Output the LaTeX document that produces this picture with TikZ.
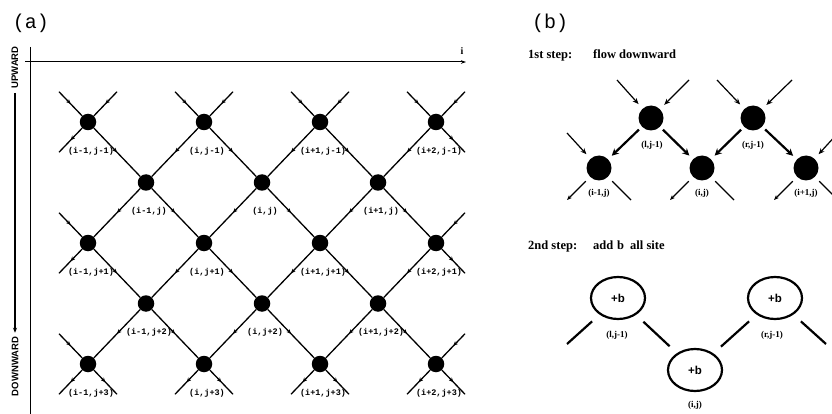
\documentclass[tikz,border=0pt]{standalone}
\usepackage{fontspec}
\setmainfont{Liberation Serif}
\setsansfont{Liberation Sans}
\setmonofont{Liberation Mono}
\usetikzlibrary{arrows.meta,decorations.markings,shapes.geometric,calc}

% offset suffix for lattice indices: -1, (none), +1, +2, +3
\newcommand\latoff[1]{\ifcase\numexpr#1+1\relax -1\or\or +1\or +2\or +3\fi}

\begin{document}
\begin{tikzpicture}[x=1pt,y=-1pt,
  site/.style={circle,fill=black,inner sep=0pt,minimum size=16.5pt},
  bond/.style={line width=1.3pt},
  midtip/.style={postaction={decorate},decoration={markings,
      mark=at position 0.5 with {\arrow{Stealth[length=4.5pt,width=4pt]}}}},
  sitelab/.style={font=\ttfamily\bfseries\fontsize{8.5}{9}\selectfont,inner sep=0pt},
  sidelab/.style={font=\sffamily\bfseries\fontsize{9.5}{10}\selectfont,inner sep=0pt,rotate=90},
  title/.style={font=\ttfamily\fontsize{20}{21}\selectfont,inner sep=0pt},
  bsite/.style={circle,fill=black,inner sep=0pt,minimum size=25pt},
  feed/.style={line width=1.2pt,-{Stealth[length=6pt,width=5pt]},shorten >=6pt},
  flow/.style={line width=2.2pt,-{Stealth[length=7pt,width=7pt]},shorten <=4pt,shorten >=5pt},
  drain/.style={line width=1.2pt,shorten <=6pt},
  blab/.style={font=\bfseries\fontsize{9}{10}\selectfont,inner sep=0pt},
  ring/.style={ellipse,draw,line width=2.2pt,minimum width=54pt,minimum height=42pt,
      inner sep=0pt,font=\sffamily\bfseries\fontsize{11.5}{13}\selectfont},
  tie/.style={line width=2.2pt,shorten <=10pt,shorten >=10pt},
  steptxt/.style={font=\bfseries\fontsize{12.5}{14}\selectfont,anchor=base west,inner sep=0pt}]

\useasboundingbox (0,0) rectangle (832,414);
\clip (0,0) rectangle (832,414);

% ---------------- panel (a) ----------------
\node[title] (pa) at (31,23) {(a)};

% axes
\coordinate (vtop) at (30,47);
\coordinate (vbot) at (30,414);
\coordinate (hleft) at (25,62);
\coordinate (hright) at (466,62);
\draw[line width=1pt] (vtop) -- (vbot);
\draw[line width=1pt,-{Stealth[length=5pt,width=3.5pt]}] (hleft) -- (hright);
\node[font=\bfseries\fontsize{10}{12}\selectfont,inner sep=0pt] (ilab) at (462,51) {i};

% direction arrow on the left
\node[sidelab] (up) at (15,67.5) {UPWARD};
\node[sidelab] (down) at (15,366.5) {DOWNWARD};
\draw[line width=1.2pt,-{Stealth[length=5pt,width=4pt]},shorten <=4pt,shorten >=4pt]
  (up.west) -- (down.east);

% lattice sites
\foreach \m in {0,...,4}{
  \foreach \k in {0,...,6}{
    \ifodd\numexpr\k+\m\relax\else
      \node[site] (n-\k-\m) at ({88+58*\k},{122+60.5*\m}) {};
    \fi
  }
}

% bonds, boundary stubs and site labels
\foreach \m in {0,...,4}{
  \foreach \k in {0,...,6}{
    \ifodd\numexpr\k+\m\relax\else
      \pgfmathtruncatemacro\kl{\k-1}
      \pgfmathtruncatemacro\kr{\k+1}
      \pgfmathtruncatemacro\md{\m+1}
      \pgfmathtruncatemacro\ul{(\m==0)||(\k==0)}
      \pgfmathtruncatemacro\ur{(\m==0)||(\k==6)}
      \pgfmathtruncatemacro\dl{(\m==4)||(\k==0)}
      \pgfmathtruncatemacro\dr{(\m==4)||(\k==6)}
      \ifnum\m<4
        \ifnum\k>0 \draw[bond,midtip] (n-\k-\m) -- (n-\kl-\md); \fi
        \ifnum\k<6 \draw[bond,midtip] (n-\k-\m) -- (n-\kr-\md); \fi
      \fi
      \ifnum\ul=1
        \coordinate (ul-\k-\m) at ($(n-\k-\m)+(-29,-30.25)$);
        \draw[bond,midtip] (ul-\k-\m) -- (n-\k-\m);
      \fi
      \ifnum\ur=1
        \coordinate (ur-\k-\m) at ($(n-\k-\m)+(29,-30.25)$);
        \draw[bond,midtip] (ur-\k-\m) -- (n-\k-\m);
      \fi
      \ifnum\dl=1
        \coordinate (dl-\k-\m) at ($(n-\k-\m)+(-29,30.25)$);
        \draw[bond,midtip] (n-\k-\m) -- (dl-\k-\m);
      \fi
      \ifnum\dr=1
        \coordinate (dr-\k-\m) at ($(n-\k-\m)+(29,30.25)$);
        \draw[bond,midtip] (n-\k-\m) -- (dr-\k-\m);
      \fi
      \pgfmathtruncatemacro\ii{floor(\k/2)-1}
      \pgfmathtruncatemacro\jj{\m-1}
      \node[sitelab] (t-\k-\m) at ($(n-\k-\m)+(3,29)$) {(i\latoff{\ii},j\latoff{\jj})};
    \fi
  }
}

% ---------------- panel (b) ----------------
\node[title] (pb) at (550,23) {(b)};

\node[steptxt] (s1) at (528,59) {1st step:};
\node[steptxt] (s1t) at (593,59) {flow downward};

\node[bsite] (T1) at (651,118) {};
\node[bsite] (T2) at (753,118) {};
\node[bsite] (B1) at (599,168) {};
\node[bsite] (B2) at (702,168) {};
\node[bsite] (B3) at (806,168) {};

\coordinate (T1a) at (617,80);
\coordinate (T1b) at (689,80);
\coordinate (T2a) at (717,80);
\coordinate (T2b) at (792,80);
\coordinate (B1a) at (567,133);
\coordinate (B3b) at (838,133);
\draw[feed] (T1a) -- (T1);
\draw[feed] (T1b) -- (T1);
\draw[feed] (T2a) -- (T2);
\draw[feed] (T2b) -- (T2);
\draw[feed] (B1a) -- (B1);
\draw[feed] (B3b) -- (B3);

\draw[flow] (T1) -- (B1);
\draw[flow] (T1) -- (B2);
\draw[flow] (T2) -- (B2);
\draw[flow] (T2) -- (B3);

\foreach \b/\x in {B1/599,B2/702,B3/806}{
  \coordinate (\b c) at ({\x-32},200);
  \coordinate (\b d) at ({\x+32},200);
  \draw[drain,-{Stealth[length=5pt,width=4pt]}] (\b) -- (\b c);
  \draw[drain] (\b) -- (\b d);
}

\node[blab] (lT1) at (652,145) {(l,j-1)};
\node[blab] (lT2) at (753,145) {(r,j-1)};
\node[blab] (lB1) at (599,193) {(i-1,j)};
\node[blab] (lB2) at (702,193) {(i,j)};
\node[blab] (lB3) at (806,193) {(i+1,j)};

\node[steptxt] (s2) at (528,249) {2nd step:};
\node[steptxt] (s2a) at (593,249) {add};
\node[steptxt] (s2b) at (617,249) {b};
\node[steptxt] (s2c) at (630,249) {all site};

\node[ring] (E1) at (618,298) {+b};
\node[ring] (E2) at (775,298) {+b};
\node[ring] (E3) at (695,370) {+b};
\coordinate (E1a) at (567,344);
\coordinate (E2b) at (826,344);
\draw[tie,shorten >=0pt] (E1) -- (E1a);
\draw[tie] (E1) -- (E3);
\draw[tie] (E2) -- (E3);
\draw[tie,shorten >=0pt] (E2) -- (E2b);

\node[blab] (lE1) at (617,335) {(l,j-1)};
\node[blab] (lE2) at (772,335) {(r,j-1)};
\node[blab] (lE3) at (695,405) {(i,j)};

\end{tikzpicture}
\end{document}
